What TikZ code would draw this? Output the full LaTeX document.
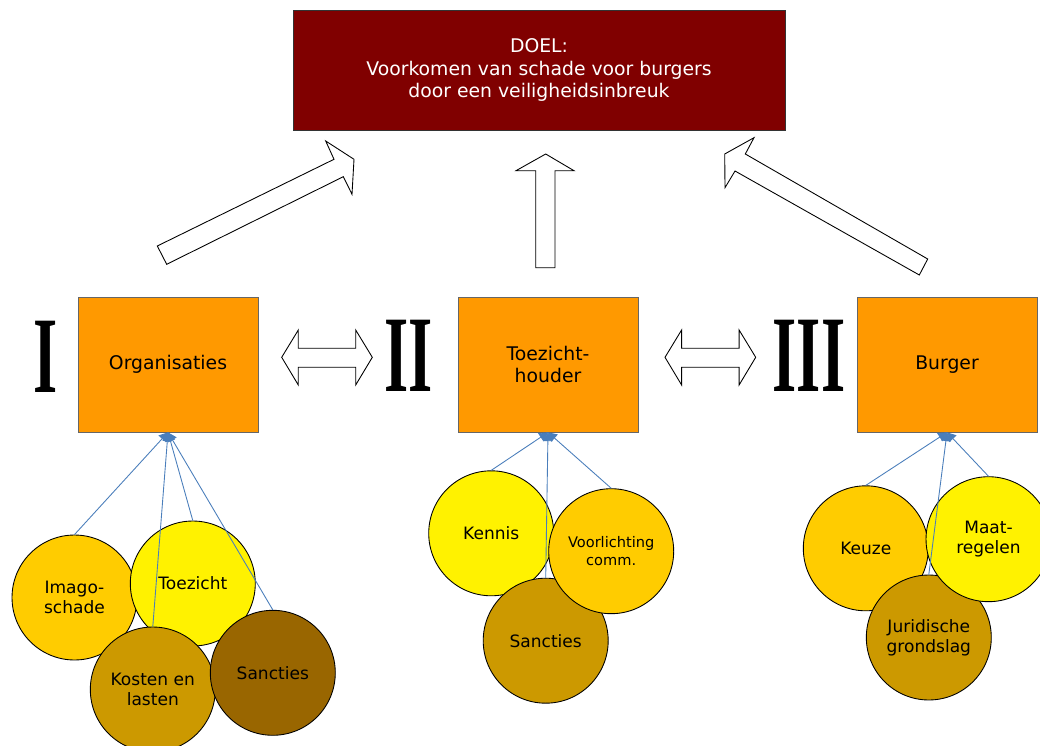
\documentclass[tikz,border=0pt]{standalone}
\usepackage{fontspec}
\newfontfamily\verdana{DejaVu Sans}
\newfontfamily\timesfont{Liberation Serif}
\usetikzlibrary{arrows.meta}
\definecolor{goalred}{HTML}{800000}
\definecolor{orangebox}{HTML}{FF9900}
\definecolor{golden}{HTML}{FFCC00}
\definecolor{ochre}{HTML}{CC9900}
\definecolor{brownish}{HTML}{996600}
\definecolor{linkblue}{HTML}{4A7EBB}

\begin{document}
\begin{tikzpicture}[x=0.02cm, y=-0.02cm,
    goal/.style={draw=black!80, fill=goalred, text=white, minimum width=9.84cm, minimum height=2.4cm, align=center, font=\verdana\fontsize{10.7}{13}\selectfont},
    box/.style={draw=black!60, fill=orangebox, minimum width=3.6cm, minimum height=2.7cm, align=center, font=\verdana\fontsize{10.7}{13}\selectfont},
    bubble/.style={circle, draw=black, line width=0.5pt, minimum size=2.5cm, inner sep=0pt, align=center, font=\verdana\fontsize{9.7}{11.3}\selectfont},
    numeral/.style={font=\timesfont\bfseries\fontsize{62}{62}\selectfont, xscale=0.57, inner sep=0pt},
    link/.style={linkblue, line width=0.5pt, -{Triangle[length=5pt,width=5.5pt]}},
    blockarrow/.style={draw=black, fill=white, line width=0.5pt, line join=miter}]
    \useasboundingbox (0,0) rectangle (1040,746);

    % goal and the three parties
    \node[goal] (goal) at (539,70) {DOEL:\\Voorkomen van schade voor burgers\\door een veiligheidsinbreuk};
    \node[box] (org) at (168,364.5) {Organisaties};
    \node[box] (tzh) at (548,364.5) {Toezicht-\\houder};
    \node[box] (burger) at (947,364.5) {Burger};

    \node[numeral] (numI) at (46,357) {I};
    \node[numeral] (numII) at (409,356) {II};
    \node[numeral] (numIII) at (809,356) {III};

    % block arrows
    \draw[blockarrow] (157.3,246) -- (334,159.3) -- (325.7,141) -- (354,159.3) -- (352,194.3) -- (343.3,176.7) -- (166.7,264.3) -- cycle;
    \draw[blockarrow] (545.7,154) -- (574,170.7) -- (555,170.7) -- (555,267.7) -- (535.7,267.7) -- (535.7,170.7) -- (516,170.7) -- cycle;
    \draw[blockarrow] (724.7,154) -- (754,137.7) -- (745.3,154) -- (927.7,259) -- (919.3,275) -- (735,171) -- (725,187.7) -- cycle;
    \foreach \a/\b in {281.7/372.3, 665/755.7}
        \draw[blockarrow] (\a,357.3) -- (\a+16.6,330) -- (\a+16.6,348.3) -- (\b-16.6,348.3) -- (\b-16.6,330) -- (\b,357.3)
            -- (\b-16.6,385) -- (\b-16.6,367.3) -- (\a+16.6,367.3) -- (\a+16.6,385) -- cycle;

    % Organisaties
    \node[bubble, fill=golden] (imago) at (74.5,597.5) {Imago-\\schade};
    \node[bubble, fill=yellow] (toezicht) at (192.8,583.5) {Toezicht};
    \node[bubble, fill=ochre] (kosten) at (152.8,689.5) {Kosten en\\lasten};
    \node[bubble, fill=brownish] (sanctiesI) at (272.8,672.8) {Sancties};

    % Toezichthouder
    \node[bubble, fill=yellow] (kennis) at (491.2,533.3) {Kennis};
    \node[bubble, fill=ochre] (sanctiesII) at (545.7,640.7) {Sancties};
    \node[bubble, fill=golden, font=\verdana\fontsize{8.3}{10}\selectfont] (voorl) at (611.2,551.2) {Voorlichting\\comm.};

    % Burger
    \node[bubble, fill=golden] (keuze) at (865.8,548.3) {Keuze};
    \node[bubble, fill=ochre] (juri) at (928.8,637.5) {Juridische\\grondslag};
    \node[bubble, fill=yellow] (maat) at (988.5,539.2) {Maat-\\regelen};

    \foreach \c in {imago,kosten,toezicht,sanctiesI}
        \draw[link] (\c.north) -- (org.south);
    \foreach \c in {kennis,sanctiesII,voorl}
        \draw[link] (\c.north) -- (tzh.south);
    \foreach \c in {keuze,juri,maat}
        \draw[link] (\c.north) -- (burger.south);
\end{tikzpicture}
\end{document}
